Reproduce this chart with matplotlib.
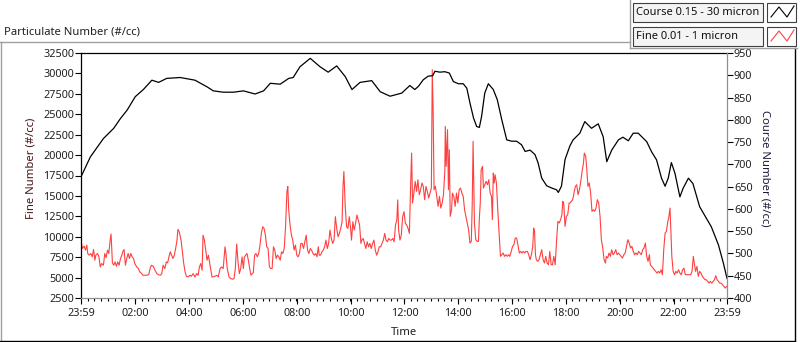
import matplotlib.pyplot as plt
from matplotlib.lines import Line2D
from matplotlib.patches import Rectangle

plt.rcParams['font.family'] = ['Noto Sans', 'DejaVu Sans']
plt.rcParams['font.size'] = 7.5

# fine particles (left axis), minutes after 23:59
fine_minutes = [
    0, 3, 7, 10, 13, 15, 18, 22, 25, 28, 31, 33, 37, 40, 43, 46, 50, 53, 56, 59,
    62, 65, 67, 70, 73, 76, 79, 82, 85, 88, 91, 93, 96, 99, 102, 105, 108, 111, 114, 117,
    120, 124, 128, 131, 134, 138, 142, 147, 151, 154, 157, 161, 165, 169, 172, 177, 180, 183, 187, 190,
    193, 196, 199, 202, 205, 208, 211, 214, 216, 219, 223, 226, 229, 232, 235, 239, 243, 246, 250, 254,
    258, 261, 264, 267, 270, 272, 275, 278, 281, 284, 287, 289, 292, 295, 298, 303, 306, 310, 313, 317,
    321, 323, 326, 330, 334, 338, 341, 344, 347, 350, 353, 356, 359, 362,
    364, 367, 370, 373, 376, 379, 382, 384, 387, 390, 393, 396, 399, 402, 405, 408, 411, 414, 417, 420,
    423, 426, 429, 432, 435, 438, 441, 444, 447, 450, 453, 456, 459, 461, 463, 466, 469, 472, 475, 478,
    481, 484, 487, 490, 493, 496, 499, 502, 505, 508, 511, 514, 517, 520, 523, 526, 529, 531, 534, 537,
    540, 543, 546, 549, 552, 555, 558, 561, 564, 567, 570, 573, 576, 579, 582, 584, 586, 589, 592, 595,
    598, 601, 603, 606, 609, 612, 615, 618, 621, 624, 626, 629, 632, 635, 638, 641, 644, 647, 650, 653,
    656, 659, 662, 665, 668, 671, 674, 677, 680, 683, 686, 689, 692, 695, 698, 701, 704, 706, 708, 711,
    714, 717, 720, 723, 726, 729, 732, 735, 737,
    739, 742, 745, 748, 751, 754, 757, 760, 763, 766, 769, 772, 775, 778, 781, 783, 785, 787, 790, 793,
    796, 799, 802, 805, 808, 811, 812, 814, 817, 819, 821, 823, 826, 828, 831, 834, 837, 840, 843, 846,
    849, 852, 855, 858, 861, 864, 867, 870, 872, 874, 877, 880, 883, 886, 888, 890, 892, 895, 897, 900,
    903, 906, 909, 912, 915, 917, 919, 921, 923, 926, 929, 932, 935, 938, 941, 944, 947, 950, 953, 956,
    959, 962, 965, 968, 971, 974, 977, 980, 983, 986, 989, 992, 995, 998, 1001, 1004, 1007, 1009, 1011, 1013,
    1015, 1018, 1021, 1024, 1027, 1030, 1033, 1036, 1039, 1042, 1045, 1048, 1051, 1054, 1057, 1060, 1063, 1066, 1069, 1072,
    1074, 1076, 1079, 1082, 1085, 1088,
    1090, 1093, 1096, 1099, 1102, 1105, 1108, 1111, 1114, 1117, 1120, 1122, 1125, 1127, 1130, 1133, 1136, 1139, 1142, 1145,
    1148, 1151, 1154, 1157, 1160, 1163, 1166, 1169, 1171, 1174, 1177, 1180, 1183, 1186, 1189, 1192, 1195, 1198, 1201, 1204,
    1207, 1210, 1213, 1216, 1219, 1222, 1225, 1228, 1231, 1234, 1237, 1240, 1243, 1246, 1249, 1252, 1255, 1258, 1261, 1264,
    1267, 1269, 1272, 1275, 1278, 1281, 1284, 1287, 1290, 1293, 1296, 1299, 1302, 1305, 1308, 1310, 1313, 1315, 1317, 1320,
    1323, 1326, 1329, 1332, 1335, 1338, 1341, 1344, 1347, 1350, 1353, 1356, 1359, 1362, 1365, 1367, 1370, 1373, 1376, 1379,
    1382, 1385, 1388, 1391, 1394, 1397, 1400, 1403, 1406, 1409, 1412, 1415, 1418, 1421, 1424, 1427, 1430, 1433, 1436, 1439,
]
fine_values = [
    9590, 8565, 8850, 8360, 8975, 7950, 7745, 7950, 7540, 8440, 7130, 7745, 7950, 7540, 6310, 6720, 6515, 7950, 7460, 8360,
    7950, 9590, 10330, 6800, 6515, 6925, 6390, 6925, 6515, 7335, 7745, 8155, 8440, 6515, 7335, 7950, 7335, 7950, 7540, 7335,
    6720, 6310, 6105, 5695, 5570, 5285, 5285, 5285, 5367, 6105, 6515, 6390, 5900, 5490, 5367, 5285, 5490, 6515, 6105, 6925,
    6800, 7540, 8155, 7745, 7335, 7745, 8565, 9590, 10900, 10615, 9590, 8155, 6720, 5695, 5160, 5080, 5285, 5160, 5490, 5080,
    5490, 5285, 6310, 6720, 5900, 10200, 9590, 8360, 7130, 7745, 6720, 6105, 5080, 5080, 5160, 5285, 5080, 6105, 6310, 6105,
    8770, 7950, 6105, 5080, 4875, 4795, 4875, 6105, 9100, 6925, 5490, 6105, 7540, 6105,
    7460, 7745, 7950, 7130, 6105, 5285, 5490, 5570, 7745, 7950, 7540, 7950, 8975, 10410, 11230, 11025, 10205, 8770, 8565, 6310,
    6105, 6105, 8770, 8360, 7335, 7745, 7540, 7130, 8155, 7950, 8565, 11230, 15535, 16150, 13280, 11435, 10205, 9590, 8360, 8975,
    7745, 7540, 7950, 9180, 9180, 8565, 9385, 10205, 8360, 7950, 8565, 8360, 7950, 7745, 7950, 7540, 8770, 7745, 7745, 8155,
    8360, 8770, 9590, 8565, 9180, 10820, 9795, 9180, 9590, 12460, 11025, 10000, 10410, 11025, 11845, 16150, 17995, 13690, 11230, 11025,
    12460, 11025, 9590, 11845, 10820, 11640, 12665, 12050, 11435, 9180, 9590, 9795, 9180, 8565, 9385, 8770, 9180, 8565, 9180, 9590,
    8360, 7745, 8155, 8770, 8770, 9180, 9590, 10410, 9590, 9385, 9795, 9590, 9590, 9795, 9385, 11435, 12050, 14510, 10820, 9590,
    10205, 12460, 13075, 11640, 11435, 11025, 10410, 16765, 20250,
    14130, 15350, 16780, 15560, 16985, 15150, 15760, 16580, 16170, 14535, 16170, 15560, 14740, 15350, 15965, 30455, 25350, 15760, 16170, 14945,
    13720, 14945, 13515, 14130, 15150, 18005, 23515, 18620, 23110, 15760, 20660, 12495, 13310, 15350, 14945, 13720, 15350, 14130, 15760, 15965,
    15350, 14945, 13310, 12495, 11680, 10860, 9230, 9435, 13720, 21680, 11680, 9640, 9435, 9435, 12290, 14130, 18210, 18620, 15965, 16375,
    16780, 16375, 16985, 15350, 14945, 12090, 17800, 16580, 17595, 16580, 13310, 10455, 7600, 7800, 8005, 7600, 7800, 7600, 7800, 7600,
    8210, 8825, 9025, 9840, 9840, 9025, 8005, 8210, 8005, 8210, 8005, 8210, 8210, 7800, 7190, 7800, 8825, 11065, 10660, 7800,
    7190, 6985, 7190, 7800, 8415, 7190, 6780, 7600, 6780, 6575, 8210, 6575, 6575, 7600, 6575, 9435, 11885, 11680, 12090, 12700,
    14330, 14130, 11270, 12495, 12700, 14130,
    14130, 14330, 14535, 15350, 16170, 16375, 15150, 15760, 16780, 18005, 19025, 20250, 19840, 18620, 16170, 16580, 15350, 13105, 13310, 13105,
    13515, 14535, 14130, 12495, 9640, 8620, 7190, 6780, 7600, 7395, 8005, 7600, 8415, 7800, 8005, 8415, 7800, 8005, 7800, 7600,
    7395, 7800, 8005, 8825, 9640, 9230, 8620, 8825, 8210, 7800, 8005, 7800, 8210, 8005, 7800, 8415, 8620, 9230, 7600, 6985,
    7800, 6575, 6370, 6165, 5960, 5760, 5555, 5760, 5555, 5960, 5350, 8415, 10455, 10660, 11885, 12290, 13515, 10455, 7600, 5760,
    5350, 5760, 5555, 5960, 5555, 5350, 5960, 6165, 5350, 5350, 5350, 5350, 5350, 5760, 7600, 6780, 5760, 6370, 5145, 5760,
    5555, 5145, 4940, 4735, 4735, 4530, 4325, 4530, 4325, 4530, 4735, 5225, 4735, 4530, 4325, 4325, 4120, 3915, 3710, 3915,
]
assert len(fine_minutes) == len(fine_values), (len(fine_minutes), len(fine_values))

# course particles (right axis)
course_minutes = [
    0, 21, 50, 73, 88, 103, 121, 139, 158, 173, 191, 221, 254, 281, 295, 317, 340, 362, 388, 407,
    422, 444, 463, 473, 488, 511, 533, 551, 570, 589, 604, 622, 648, 667, 689, 715, 733, 744, 752, 763,
    774, 784, 789, 800, 811, 821, 830, 841, 852, 860, 867, 875, 882, 888, 893, 900, 908, 919, 928, 938,
    949, 960, 971, 982, 990, 1001, 1012, 1019, 1027, 1038, 1049, 1060, 1064, 1071, 1079, 1090, 1097, 1112, 1123, 1138,
    1153, 1164, 1172, 1183, 1198, 1208, 1220, 1231, 1242, 1261, 1272, 1283, 1294, 1302, 1309, 1316, 1324, 1335, 1342, 1354,
    1364, 1379, 1394, 1405, 1421, 1432, 1440,
]
course_values = [
    672, 717, 758, 781, 803, 822, 852, 868, 889, 884, 893, 895, 889, 874, 865, 862, 862, 865, 858, 865,
    882, 880, 893, 895, 919, 938, 919, 907, 921, 897, 868, 884, 888, 863, 853, 860, 877, 868, 875, 890,
    898, 899, 909, 907, 908, 905, 886, 881, 881, 871, 838, 804, 785, 783, 808, 860, 881, 868, 845, 800,
    755, 752, 752, 744, 729, 732, 722, 703, 669, 652, 647, 643, 637, 651, 711, 742, 755, 770, 796, 781,
    791, 762, 706, 732, 755, 761, 753, 770, 770, 751, 728, 710, 669, 651, 669, 704, 680, 627, 646, 669,
    657, 605, 579, 560, 519, 478, 444,
]
assert len(course_minutes) == len(course_values), (len(course_minutes), len(course_values))

time_ticks = [0, 121, 241, 361, 481, 601, 721, 841, 961, 1081, 1201, 1321, 1440]
time_labels = ['23:59', '02:00', '04:00', '06:00', '08:00', '10:00', '12:00',
               '14:00', '16:00', '18:00', '20:00', '22:00', '23:59']
legend_labels = ['Course 0.15 - 30 micron', 'Fine 0.01 - 1 micron']

W, H = 800, 342
fig = plt.figure(figsize=(W / 100, H / 100), dpi=100)
fig.patch.set_facecolor('white')


def fx(x):
    return x / W


def fy(y):
    return 1 - y / H


ax = fig.add_axes([fx(81), fy(298), (727 - 81) / W, (298 - 53) / H])
ax2 = ax.twinx()

ax.plot(fine_minutes, fine_values, color='#ff4040', lw=0.8)
ax2.plot(course_minutes, course_values, color='black', lw=0.9)

ax.set_xlim(0, 1440)
ax.set_ylim(2500, 32500)
ax2.set_ylim(400, 950)
ax.set_yticks(range(2500, 32501, 2500))
ax2.set_yticks(range(400, 951, 50))
ax.set_xticks(time_ticks)
ax.set_xticklabels(time_labels)
ax.set_xticks(range(0, 1441, 15), minor=True)

for a in (ax, ax2):
    for s in a.spines.values():
        s.set_linewidth(0.9)
ax.spines['top'].set_color('black')
ax.spines['left'].set_color('black')
ax.spines['bottom'].set_color('#909090')
ax.spines['right'].set_visible(False)
ax2.spines['right'].set_color('#909090')
ax2.spines['top'].set_visible(False)
ax2.spines['left'].set_visible(False)
ax2.spines['bottom'].set_visible(False)

txt = '#202020'
tick_fs = 7.8
ax.tick_params(axis='y', direction='out', length=4, width=0.8, color='black',
               labelsize=tick_fs, labelcolor=txt, pad=1)
ax2.tick_params(axis='y', direction='out', length=4, width=0.8, color='black',
                labelsize=tick_fs, labelcolor=txt, pad=1)
ax.tick_params(axis='x', which='major', direction='out', length=4, width=0.8,
               color='black', labelsize=tick_fs, labelcolor=txt, pad=3)
ax.tick_params(axis='x', which='minor', direction='out', length=2, width=0.8, color='black')

ax.set_ylabel('Fine Number (#/cc)', color='#4a1414', fontsize=8.1)
ax.yaxis.set_label_coords(-0.069, 0.53)
ax2.set_ylabel('Course Number (#/cc)', color='#1c1c3c', fontsize=8.1,
               rotation=-90, va='center', ha='center')
ax2.yaxis.set_label_coords(1.059, 0.53)
ax.set_xlabel('Time', color=txt, fontsize=8.1)
ax.xaxis.set_label_coords((404 - 81) / 646, -0.12)

fig.text(fx(4), fy(32), 'Particulate Number (#/cc)', ha='left', va='center',
         fontsize=8.1, color=txt)


# panel frame
def fline(x0, y0, x1, y1, color, lw=1.0):
    fig.add_artist(Line2D([fx(x0), fx(x1)], [fy(y0), fy(y1)], color=color, lw=lw,
                          transform=fig.transFigure))


fline(0, 42, 630, 42, '#a0a0a0')
fline(0.5, 42, 0.5, 342, '#a0a0a0')
fline(0, 340.5, 795, 340.5, 'black')
fline(795, 48, 795, 341, 'black')
fline(630, 0, 630, 48, '#a0a0a0')
fline(630, 48, 797, 48, '#a0a0a0')

# legend
legend_colors = ['black', '#ff4040']
for i, (label, col) in enumerate(zip(legend_labels, legend_colors)):
    top = 3 + i * 24
    fig.add_artist(Rectangle((fx(633), fy(top + 19)), 130 / W, 19 / H,
                             transform=fig.transFigure, facecolor='#f4f4f4',
                             edgecolor='#404040', lw=0.8))
    fig.add_artist(Rectangle((fx(767), fy(top + 19)), 29 / W, 19 / H,
                             transform=fig.transFigure, facecolor='white',
                             edgecolor='#404040', lw=0.8))
    fig.text(fx(636), fy(top + 9.5), label, ha='left', va='center',
             fontsize=8.0, color='#101010')
    gx = [771, 779, 787, 794]
    gy = [top + 14, top + 4, top + 14, top + 3]
    fig.add_artist(Line2D([fx(v) for v in gx], [fy(v) for v in gy], color=col,
                          lw=0.8, transform=fig.transFigure))

fig.savefig('out.png', dpi=100)
